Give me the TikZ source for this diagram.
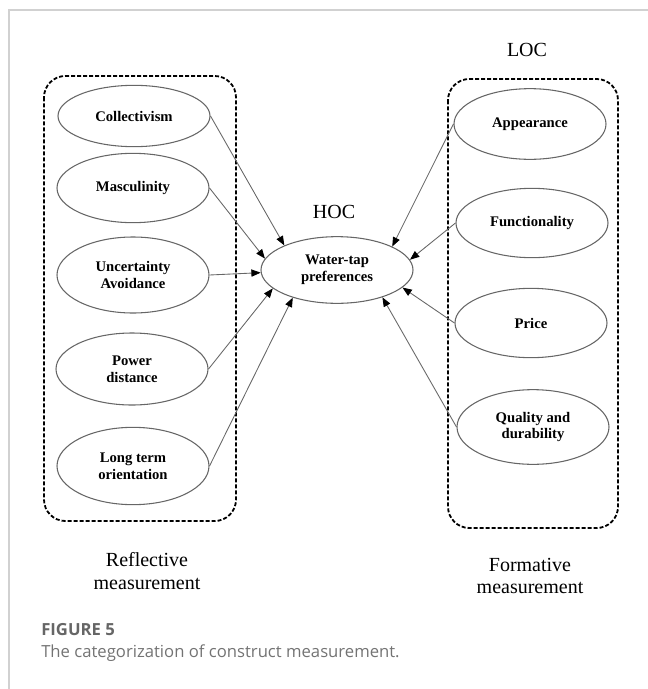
\documentclass[tikz,border=0pt]{standalone}
\usepackage{fontspec}
\setmainfont{Liberation Serif}
\newfontfamily\capfont{Open Sans}
\usetikzlibrary{shapes.geometric,arrows.meta}

\begin{document}
\begin{tikzpicture}[x=0.75pt,y=-0.75pt,
        lv/.style={ellipse, draw=black!60, line width=0.8pt,
                        minimum width=114pt, inner sep=0pt, align=center,
                        font=\fontsize{11}{12.5}\selectfont\bfseries},
        grp/.style={draw, line width=1.35pt,
                        dash pattern=on 3pt off 1.5pt, rounded corners=16pt},
        lbl/.style={font=\fontsize{15}{17}\selectfont, align=center},
        arr/.style={draw=black!60, line width=0.65pt,
                        -{Triangle[length=7pt,width=5.4pt,color=black]}}]
    \useasboundingbox (0,0) rectangle (648,689);
    % page frame
    \draw[black!18, line width=1.2pt] (9,689) -- (9,10) -- (648,10);

    % groups
    \draw[grp] (44,76) rectangle (236,521);
    \draw[grp] (448,79) rectangle (618,528);

    % reflective side
    \node[lv, minimum height=46pt] (col) at (134,116) {Collectivism};
    \node[lv, minimum height=52pt] (mas) at (133,188) {Masculinity};
    \node[lv, minimum height=57pt] (unc) at (133,275) {Uncertainty\\Avoidance};
    \node[lv, minimum height=54pt] (pow) at (132,369) {Power\\distance};
    \node[lv, minimum height=58pt] (lto) at (133,466) {Long term\\orientation};

    % higher order construct
    \node[lv, minimum height=50pt] (wtp) at (337,270) {Water-tap\\preferences};
    \node[lbl] (hoc) at (334,212) {HOC};

    % formative side
    \node[lbl] (loc) at (527,50) {LOC};
    \node[lv, minimum height=53pt] (app) at (530,124) {Appearance};
    \node[lv, minimum height=52pt] (fun) at (532,223) {Functionality};
    \node[lv, minimum height=52pt] (pri) at (531,323) {Price};
    \node[lv, minimum height=56pt] (qua) at (533,427) {Quality and\\durability};

    \draw[arr] (col.east) -- (wtp.155);
    \draw[arr] (mas.east) -- (wtp.171);
    \draw[arr] (unc.east) -- (wtp.182);
    \draw[arr] (pow.east) -- (wtp.196);
    \draw[arr] (lto.east) -- (wtp.212);
    \draw[arr] (app.west) -- (wtp.23);
    \draw[arr] (fun.west) -- (wtp.8);
    \draw[arr] (pri.west) -- (wtp.345);
    \draw[arr] (qua.west) -- (wtp.329);

    \node[lbl] (refl) at (147,571) {Reflective\\measurement};
    \node[lbl] (form) at (530,576) {Formative\\measurement};

    % caption
    \node[anchor=west, inner sep=0pt, text=black!60,
        font=\capfont\bfseries\fontsize{12.5}{14}\selectfont] (fig) at (41,630) {FIGURE 5};
    \node[anchor=west, inner sep=0pt, text=black!55,
        font=\capfont\fontsize{12.5}{14}\selectfont] (cap) at (41,653)
        {The categorization of construct measurement.};
\end{tikzpicture}
\end{document}
